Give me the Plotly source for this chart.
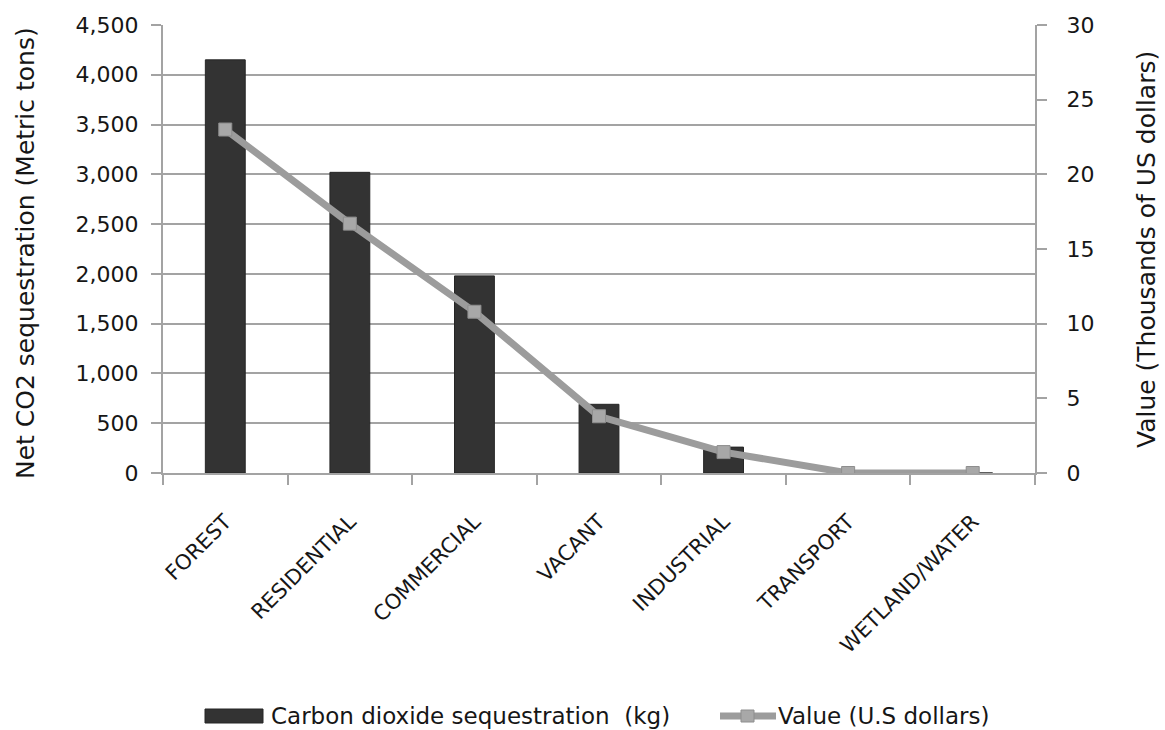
import plotly.graph_objects as go

categories = ["FOREST", "RESIDENTIAL", "COMMERCIAL", "VACANT", "INDUSTRIAL", "TRANSPORT", "WETLAND/WATER"]
co2_sequestration = [4150, 3020, 1980, 690, 260, 0, 0]
value_usd_thousands = [23.0, 16.7, 10.8, 3.8, 1.4, 0, 0]
left_ticks = [0, 500, 1000, 1500, 2000, 2500, 3000, 3500, 4000, 4500]
right_ticks = [0, 5, 10, 15, 20, 25, 30]
bar_name = "Carbon dioxide sequestration  (kg)"
line_name = "Value (U.S dollars)"
left_title = "Net CO2 sequestration (Metric tons)"
right_title = "Value (Thousands of US dollars)"

FONT = "DejaVu Sans"
TXT = "#161616"
GRID = "#a3a3a3"
BAR = "#333333"
LINE = "#9c9c9c"

W, H = 1165, 730
L, R, T, B = 163, 130, 25, 257
PW, PH = W - L - R, H - T - B


def px(x):
    return (x - L) / PW


def py(y):
    return (H - B - y) / PH


fig = go.Figure()
fig.add_trace(go.Bar(
    x=categories, y=co2_sequestration, name=bar_name,
    marker=dict(color=BAR, line=dict(color="#262626", width=1)),
    yaxis="y", showlegend=False,
))
fig.add_trace(go.Scatter(
    x=categories, y=value_usd_thousands, name=line_name,
    mode="lines+markers",
    line=dict(color=LINE, width=7),
    marker=dict(symbol="square", size=13, color="#a8a8a8", line=dict(color="#8e8e8e", width=1)),
    yaxis="y2", showlegend=False,
))

# legend drawn manually to match the wide bar swatch
shapes = [
    dict(type="rect", xref="paper", yref="paper", x0=px(205), x1=px(263), y0=py(723), y1=py(709),
         fillcolor=BAR, line=dict(color="#262626", width=1)),
    dict(type="line", xref="paper", yref="paper", x0=px(720), x1=px(776), y0=py(716), y1=py(716),
         line=dict(color=LINE, width=7)),
    dict(type="rect", xref="paper", yref="paper", x0=px(741), x1=px(754), y0=py(722), y1=py(710),
         fillcolor="#a8a8a8", line=dict(color="#8e8e8e", width=1)),
]
annotations = [
    dict(text=bar_name, xref="paper", yref="paper", x=px(269), y=py(716), xanchor="left", yanchor="middle",
         showarrow=False, font=dict(family=FONT, size=23, color=TXT)),
    dict(text=line_name, xref="paper", yref="paper", x=px(776), y=py(716), xanchor="left", yanchor="middle",
         showarrow=False, font=dict(family=FONT, size=23, color=TXT)),
    dict(text=left_title, xref="paper", yref="paper", x=px(25), y=py(253), xanchor="center", yanchor="middle",
         textangle=-90, showarrow=False, font=dict(family=FONT, size=25, color=TXT)),
    dict(text=right_title, xref="paper", yref="paper", x=px(1147), y=py(250), xanchor="center", yanchor="middle",
         textangle=-90, showarrow=False, font=dict(family=FONT, size=25, color=TXT)),
]

fig.update_layout(
    width=W, height=H,
    margin=dict(l=L, r=R, t=T, b=B),
    paper_bgcolor="white", plot_bgcolor="white",
    font=dict(family=FONT, size=20, color=TXT),
    bargap=0.68,
    showlegend=False,
    shapes=shapes,
    annotations=annotations,
    xaxis=dict(
        type="category", tickangle=-45, tickfont=dict(size=21, color=TXT),
        showline=True, linecolor=GRID, linewidth=2,
        ticks="outside", ticklen=10, tickcolor=GRID, tickwidth=2, tickson="boundaries",
        ticklabelstandoff=26,
        showgrid=False,
    ),
    yaxis=dict(
        range=[0, 4500], tickvals=left_ticks, tickformat=",",
        showline=True, linecolor=GRID, linewidth=2,
        ticks="outside", ticklen=10, tickcolor=GRID, tickwidth=2,
        ticklabelstandoff=8,
        showgrid=True, gridcolor=GRID, gridwidth=2, zeroline=False,
        tickfont=dict(size=22, color=TXT),
    ),
    yaxis2=dict(
        range=[0, 30], tickvals=right_ticks, overlaying="y", side="right",
        showline=True, linecolor=GRID, linewidth=2,
        ticks="outside", ticklen=10, tickcolor=GRID, tickwidth=2,
        ticklabelstandoff=15,
        showgrid=False, zeroline=False,
        tickfont=dict(size=22, color=TXT),
    ),
)

fig.write_html("out.html")
